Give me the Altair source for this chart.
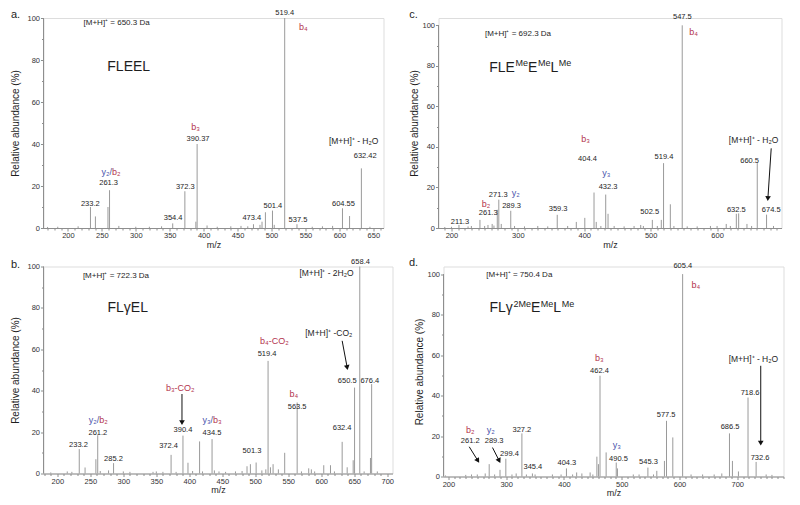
import math
import altair as alt
import pandas as pd

# ---------------- data: panel a (FLEEL) ----------------
A_MZ = [170, 185, 215, 233.2, 240.5, 259, 261.3, 275, 300, 320, 338, 354.4, 372.3, 388.5, 390.37,
        405, 420, 440, 455, 465, 473.4, 483, 486, 491, 501.4, 504, 519.4, 537.5, 560, 575, 590,
        604.55, 615, 632.42, 645]
A_INT = [0.5, 0.6, 0.8, 10, 5.5, 10, 18, 1, 0.6, 0.6, 0.8, 2.2, 17.5, 3, 40,
         1.2, 0.6, 0.8, 1, 0.8, 1.8, 1.5, 3, 7.5, 8.3, 1.5, 100, 1.8, 0.6, 0.8, 1,
         9.4, 5.7, 28.4, 0.6]
A_LAB_T = ["233.2", "261.3", "354.4", "372.3", "390.37", "473.4", "501.4", "537.5", "519.4", "604.55", "632.42"]
A_LAB_X = [233, 260, 355, 373, 391.7, 471, 502, 539, 519.4, 606, 638]
A_LAB_Y = [11.4, 21.3, 4.6, 19.4, 42.4, 4.6, 10.5, 3.8, 102.5, 11.4, 34.4]
A_NOTE_T = ["[M+H]⁺ - H₂O"]
A_NOTE_X = [621]
A_NOTE_Y = [41.6]
A_ION_T = ["b₄", "b₃"]
A_ION_X = [547, 388]
A_ION_Y = [95.9, 48.2]
A_ION_K = ["b", "b"]
A_PAIR_L = ["y₂/"]
A_PAIR_R = ["b₂"]
A_PAIR_X = [264.8]
A_PAIR_Y = [26.8]
A_ARR_X1, A_ARR_Y1, A_ARR_X2, A_ARR_Y2 = [], [], [], []
A_HEAD = "[M+H]⁺ = 650.3 Da"
A_HEAD_XY = (223, 97.6)
A_NAME_PARTS = ["FLEEL"]
A_NAME_SUP = [0]
A_NAME_XY = (258, 76.7)

# ---------------- data: panel b (FLγEL) ----------------
B_MZ = [190, 215, 222, 233.2, 242, 258.4, 261.2, 265, 277.6, 285.2, 300, 310, 345, 350, 360, 372.4,
        380, 390.4, 398, 405, 415.6, 420, 434.5, 438, 445, 455, 470, 480, 487.5, 492.6, 501.3, 510,
        516, 519.4, 523, 527, 535, 544.6, 563.5, 570, 581, 585, 590, 603.8, 614, 620, 631.7, 639.3,
        648.4, 650.5, 658.4, 665, 674.6, 676.4, 685]
B_INT = [0.5, 1, 0.8, 11.8, 2.9, 6.9, 18.5, 1.2, 1.5, 5, 1, 0.8, 0.8, 1, 0.8, 9,
         0.8, 18.3, 5.2, 1.2, 15.5, 1, 16.6, 1.5, 1, 0.8, 1, 1.2, 3.5, 4.5, 5.3, 1.5,
         2, 54.4, 3, 4.5, 2, 10, 34.3, 1, 2.5, 2, 1, 4, 4, 1, 15.3, 3,
         6.4, 41.5, 100, 1, 7.5, 43.2, 1]
B_LAB_T = ["233.2", "261.2", "285.2", "372.4", "390.4", "434.5", "501.3", "519.4", "563.5", "632.4",
           "650.5", "676.4", "658.4"]
B_LAB_X = [232, 261.4, 285, 368.6, 390.4, 434.4, 495, 517.9, 563.4, 631.7, 639.3, 673.6, 659.5]
B_LAB_Y = [13.9, 19.8, 7, 13.4, 21.1, 19.8, 11, 57.7, 31.9, 21.8, 44.8, 44.8, 102.4]
B_NOTE_T = ["[M+H]⁺ - 2H₂O", "[M+H]⁺ -CO₂"]
B_NOTE_X = [608, 611.4]
B_NOTE_Y = [97.1, 68.1]
B_ION_T = ["b₄-CO₂", "b₄", "b₃-CO₂"]
B_ION_X = [529, 558.3, 386.3]
B_ION_Y = [64.1, 38.6, 41.5]
B_ION_K = ["b", "b", "b"]
B_PAIR_L = ["y₂/", "y₃/"]
B_PAIR_R = ["b₂", "b₃"]
B_PAIR_X = [263.4, 436]
B_PAIR_Y = [25.9, 25.9]
B_ARR_X1 = [631.7, 388.9]
B_ARR_Y1 = [64.1, 38.4]
B_ARR_X2 = [639.3, 388.9]
B_ARR_Y2 = [51.2, 24.6]
B_HEAD = "[M+H]⁺ = 722.3 Da"
B_HEAD_XY = (238.7, 95.5)
B_NAME_PARTS = ["FLγEL"]
B_NAME_SUP = [0]
B_NAME_XY = (276, 79.9)

# ---------------- data: panel c (FLE(Me)E(Me)L(Me)) ----------------
C_MZ = [190, 200, 211.3, 225, 230, 242.9, 250, 255, 261.3, 264, 269, 271.3, 275, 289.3, 295, 310,
        330, 345, 359.3, 375, 388, 400.8, 414.7, 418, 425, 432.3, 435.8, 445, 460, 475, 485, 489,
        502.5, 510, 516, 519.4, 529.6, 535, 547.5, 555, 570, 590, 600, 613.8, 620, 629, 632.5, 645,
        652, 660.5, 674.5, 685]
C_INT = [0.5, 0.6, 1.5, 0.8, 1, 4, 1, 1.5, 2, 1.2, 9, 14, 2, 8.5, 1, 0.8,
         1, 0.8, 6.5, 1, 3, 5, 17.5, 3, 1, 16.5, 7, 1, 0.8, 1, 1.5, 1,
         4, 1, 4, 32, 11.7, 1, 100, 0.8, 0.8, 1, 1, 2, 1, 7, 7.2, 2,
         1, 32, 6.6, 1]
C_LAB_T = ["211.3", "261.3", "271.3", "289.3", "359.3", "404.4", "432.3", "502.5", "519.4", "547.5",
           "632.5", "660.5", "674.5"]
C_LAB_X = [212.8, 255.4, 270.4, 290.5, 360.6, 404.8, 435.8, 498.5, 520, 547.7, 628.9, 649, 681.5]
C_LAB_Y = [3.1, 7.2, 16.3, 10.9, 9.4, 34, 20, 7.9, 35.2, 104, 8.9, 33.2, 8.9]
C_NOTE_T = ["[M+H]⁺ - H₂O"]
C_NOTE_X = [654.9]
C_NOTE_Y = [43.4]
C_ION_T = ["b₄", "b₃", "y₃", "y₂", "b₂"]
C_ION_X = [564.7, 401.8, 433.4, 297, 251.9]
C_ION_Y = [96.9, 43.8, 27, 17.4, 11.8]
C_ION_K = ["b", "b", "y", "y", "b"]
C_PAIR_L, C_PAIR_R, C_PAIR_X, C_PAIR_Y = [], [], [], []
C_ARR_X1 = [681.5]
C_ARR_Y1 = [39.3]
C_ARR_X2 = [676.5]
C_ARR_Y2 = [14.5]
C_HEAD = "[M+H]⁺ = 692.3 Da"
C_HEAD_XY = (250.4, 95.5)
C_NAME_PARTS = ["FLE", "Me", "E", "Me", "L", "Me"]
C_NAME_SUP = [0, 1, 0, 1, 0, 1]
C_NAME_XY = (256.8, 79.1)

# ---------------- data: panel d (FLγ(2Me)E(Me)L(Me)) ----------------
D_MZ = [195, 230, 240, 250, 263.7, 270.6, 280, 289.3, 299.4, 310, 317.3, 327.2, 335, 345.4, 350, 380,
        395, 404.3, 415, 422, 431, 445.3, 450, 457, 459.7, 462.4, 473, 490.5, 492.6, 520, 530, 545.3,
        555, 560.7, 573.9, 577.5, 588.4, 605.4, 620, 640, 660, 673.2, 686.5, 691.6, 702, 718.6, 732.6,
        750, 760]
D_INT = [0.5, 0.8, 1, 1, 1.5, 6.1, 1, 3.3, 8.8, 1, 1.5, 21.3, 1, 1.5, 1, 1,
         1, 4, 1, 2, 1.5, 2, 1, 9.8, 6.1, 49.8, 11.9, 6.9, 4, 1, 1, 4.4,
         1, 2.8, 7.7, 27.5, 19.3, 100, 1, 1, 1, 1.5, 21.3, 7.7, 2.5, 39, 7.2,
         1, 0.8]
D_LAB_T = ["261.2", "289.3", "299.4", "327.2", "345.4", "404.3", "462.4", "490.5", "545.3", "577.5",
           "605.4", "686.5", "718.6", "732.6"]
D_LAB_X = [237.7, 279.2, 305.7, 327.2, 346.2, 405, 461.4, 494.3, 546.2, 576.8, 605.7, 687.5, 722.1, 739.4]
D_LAB_Y = [17.6, 17.6, 11, 23.1, 4.8, 6.9, 52.2, 8.6, 7.3, 30.3, 103.8, 24.7, 41.5, 9.1]
D_NOTE_T = ["[M+H]⁺ - H₂O"]
D_NOTE_X = [727.9]
D_NOTE_Y = [58]
D_ION_T = ["b₄", "b₃", "y₃", "b₂", "y₂"]
D_ION_X = [628.2, 461.4, 491.5, 237.7, 273.5]
D_ION_Y = [94.6, 58.3, 15.7, 23.1, 23.1]
D_ION_K = ["b", "b", "y", "b", "y"]
D_PAIR_L, D_PAIR_R, D_PAIR_X, D_PAIR_Y = [], [], [], []
D_ARR_X1 = [740.6, 236, 276.3]
D_ARR_Y1 = [54.7, 14.7, 14.3]
D_ARR_X2 = [740.6, 251, 287.9]
D_ARR_Y2 = [16.5, 7.8, 7.8]
D_HEAD = "[M+H]⁺ = 750.4 Da"
D_HEAD_XY = (265.4, 99.7)
D_NAME_PARTS = ["FLγ", "2Me", "E", "Me", "L", "Me"]
D_NAME_SUP = [0, 1, 0, 1, 0, 1]
D_NAME_XY = (271.1, 83.2)

# ---------------- style ----------------
FONT = "Liberation Sans"
RED = "#b3344e"
BLUE = "#4a55ad"
PEAK = "#9a9a9a"
AXIS = "#8e8e8e"
TXT = "#1e1e1e"
KIND_COLOR = {"b": RED, "y": BLUE}
NAME_SIZE = 14
SUP_SIZE = 9
# approximate Arial / Liberation Sans advance widths (em) for composing the peptide names
GLYPH_W = {"F": 0.611, "L": 0.556, "E": 0.667, "M": 0.833, "e": 0.556, "γ": 0.5, "2": 0.556}


def text_width(s, size):
    return sum(GLYPH_W.get(ch, 0.6) for ch in s) * size


def panel(letter, mz, inten, lab_t, lab_x, lab_y, note_t, note_x, note_y,
          ion_t, ion_x, ion_y, ion_k, pair_l, pair_r, pair_x, pair_y,
          ax1, ay1, ax2, ay2, head, head_xy, name_parts, name_sup, name_xy,
          xdom, ydom, width, height, major, title_pad, letter_xy):
    xs = alt.Scale(domain=xdom, nice=False, zero=False)
    ys = alt.Scale(domain=ydom, nice=False, zero=False)
    xvals = list(range(int(math.ceil(xdom[0] / 10.0)) * 10, int(xdom[1]) + 1, 10))
    xaxis = alt.Axis(
        title="m/z", values=xvals,
        labelExpr=f"datum.value % {major} === 0 ? datum.label : ''",
        tickSize={"condition": {"test": f"datum.value % {major} === 0", "value": 3}, "value": 2},
        labelOverlap=False, grid=False, domainColor=AXIS, tickColor=AXIS,
        labelColor="#333333", labelFont=FONT, labelFontSize=7.5, labelPadding=0.5,
        titleFont=FONT, titleFontSize=9, titleFontWeight="normal", titleColor=TXT, titlePadding=1,
    )
    yaxis = alt.Axis(
        title="Relative abundance (%)", values=list(range(0, 101, 10)),
        labelExpr="datum.value % 20 === 0 ? datum.label : ''",
        tickSize={"condition": {"test": "datum.value % 20 === 0", "value": 3}, "value": 2},
        labelOverlap=False, grid=False, domain=False, tickColor=AXIS,
        labelColor="#333333", labelFont=FONT, labelFontSize=7.5, labelPadding=1,
        titleFont=FONT, titleFontSize=10, titleFontWeight="normal", titleColor=TXT,
        titlePadding=title_pad,
    )

    def X(f):
        return alt.X(f, type="quantitative", scale=xs, axis=xaxis)

    def Y(f):
        return alt.Y(f, type="quantitative", scale=ys, axis=yaxis)

    peaks = pd.DataFrame({"mz": mz, "y": inten, "y0": [0] * len(mz)})
    layers = []
    layers.append(alt.Chart(peaks).mark_rule(color=PEAK, strokeWidth=1).encode(
        x=X("mz"), y=Y("y"), y2="y0:Q"))
    # y axis line (0 to 100)
    yline = pd.DataFrame({"mz": [xdom[0]], "y": [0], "y2": [100]})
    layers.append(alt.Chart(yline).mark_rule(color=AXIS, strokeWidth=1).encode(
        x=X("mz"), y=Y("y"), y2="y2:Q"))
    # peak value labels
    labs = pd.DataFrame({"mz": lab_x, "y": lab_y, "t": lab_t})
    layers.append(alt.Chart(labs).mark_text(font=FONT, fontSize=7.5, color=TXT, baseline="middle").encode(
        x=X("mz"), y=Y("y"), text="t:N"))
    notes = pd.DataFrame({"mz": note_x, "y": note_y, "t": note_t})
    layers.append(alt.Chart(notes).mark_text(font=FONT, fontSize=8.5, color=TXT, baseline="middle").encode(
        x=X("mz"), y=Y("y"), text="t:N"))
    ions = pd.DataFrame({"mz": ion_x, "y": ion_y, "t": ion_t, "c": [KIND_COLOR[k] for k in ion_k]})
    layers.append(alt.Chart(ions).mark_text(font=FONT, fontSize=9, baseline="middle").encode(
        x=X("mz"), y=Y("y"), text="t:N", color=alt.Color("c:N", scale=None)))
    if pair_x:
        pl = pd.DataFrame({"mz": pair_x, "y": pair_y, "t": pair_l})
        pr = pd.DataFrame({"mz": pair_x, "y": pair_y, "t": pair_r})
        layers.append(alt.Chart(pl).mark_text(font=FONT, fontSize=9, baseline="middle", align="right",
                                              color=BLUE).encode(x=X("mz"), y=Y("y"), text="t:N"))
        layers.append(alt.Chart(pr).mark_text(font=FONT, fontSize=9, baseline="middle", align="left",
                                              color=RED).encode(x=X("mz"), y=Y("y"), text="t:N"))
    hd = pd.DataFrame({"mz": [head_xy[0]], "y": [head_xy[1]], "t": [head]})
    layers.append(alt.Chart(hd).mark_text(font=FONT, fontSize=8, color=TXT, baseline="middle",
                                          align="left").encode(x=X("mz"), y=Y("y"), text="t:N"))
    # peptide name, composed of normal and superscript pieces
    off = 0.0
    for part, sup in zip(name_parts, name_sup):
        size = SUP_SIZE if sup else NAME_SIZE
        if sup:
            off += 0.6
        nd = pd.DataFrame({"mz": [name_xy[0]], "y": [name_xy[1]], "t": [part]})
        layers.append(alt.Chart(nd).mark_text(font=FONT, fontSize=size, color=TXT, baseline="middle",
                                              align="left", dx=round(off, 2), dy=-4.5 if sup else 0).encode(
            x=X("mz"), y=Y("y"), text="t:N"))
        off += text_width(part, size)
    if ax1:
        kx = width / (xdom[1] - xdom[0])
        ky = height / (ydom[1] - ydom[0])
        ang = []
        for i in range(len(ax1)):
            vx = (ax2[i] - ax1[i]) * kx
            vy = -(ay2[i] - ay1[i]) * ky
            ang.append(math.degrees(math.atan2(-vx, vy)) % 360)
        arr = pd.DataFrame({"mz": ax1, "y": ay1, "mz2": ax2, "y2": ay2, "a": ang})
        layers.append(alt.Chart(arr).mark_rule(color="#111111", strokeWidth=1).encode(
            x=X("mz"), y=Y("y"), x2="mz2:Q", y2="y2:Q"))
        layers.append(alt.Chart(arr).mark_point(shape="triangle-down", filled=True, color="#111111",
                                                size=32, opacity=1).encode(
            x=X("mz2"), y=Y("y2"), angle=alt.Angle("a:Q", scale=None)))
    lt = pd.DataFrame({"t": [letter]})
    layers.append(alt.Chart(lt).mark_text(font=FONT, fontSize=11, color=TXT, baseline="middle",
                                          align="center").encode(
        text="t:N", x=alt.value(letter_xy[0]), y=alt.value(letter_xy[1])))
    return alt.layer(*layers).properties(width=width, height=height)


pa = panel("a.", A_MZ, A_INT, A_LAB_T, A_LAB_X, A_LAB_Y, A_NOTE_T, A_NOTE_X, A_NOTE_Y,
           A_ION_T, A_ION_X, A_ION_Y, A_ION_K, A_PAIR_L, A_PAIR_R, A_PAIR_X, A_PAIR_Y,
           A_ARR_X1, A_ARR_Y1, A_ARR_X2, A_ARR_Y2, A_HEAD, A_HEAD_XY, A_NAME_PARTS, A_NAME_SUP, A_NAME_XY,
           [164, 665], [0, 100], 340, 210, 50, 6, (-28, -3))
pc = panel("c.", C_MZ, C_INT, C_LAB_T, C_LAB_X, C_LAB_Y, C_NOTE_T, C_NOTE_X, C_NOTE_Y,
           C_ION_T, C_ION_X, C_ION_Y, C_ION_K, C_PAIR_L, C_PAIR_R, C_PAIR_X, C_PAIR_Y,
           C_ARR_X1, C_ARR_Y1, C_ARR_X2, C_ARR_Y2, C_HEAD, C_HEAD_XY, C_NAME_PARTS, C_NAME_SUP, C_NAME_XY,
           [180.5, 697], [0, 103.6], 343, 210, 100, 2, (-25, -3))
pb = panel("b.", B_MZ, B_INT, B_LAB_T, B_LAB_X, B_LAB_Y, B_NOTE_T, B_NOTE_X, B_NOTE_Y,
           B_ION_T, B_ION_X, B_ION_Y, B_ION_K, B_PAIR_L, B_PAIR_R, B_PAIR_X, B_PAIR_Y,
           B_ARR_X1, B_ARR_Y1, B_ARR_X2, B_ARR_Y2, B_HEAD, B_HEAD_XY, B_NAME_PARTS, B_NAME_SUP, B_NAME_XY,
           [179, 708], [0, 100], 349, 207, 50, 6, (-28, -2))
pd_ = panel("d.", D_MZ, D_INT, D_LAB_T, D_LAB_X, D_LAB_Y, D_NOTE_T, D_NOTE_X, D_NOTE_Y,
            D_ION_T, D_ION_X, D_ION_Y, D_ION_K, D_PAIR_L, D_PAIR_R, D_PAIR_X, D_PAIR_Y,
            D_ARR_X1, D_ARR_Y1, D_ARR_X2, D_ARR_Y2, D_HEAD, D_HEAD_XY, D_NAME_PARTS, D_NAME_SUP, D_NAME_XY,
            [191.5, 780], [0, 103.75], 340, 210, 100, 2, (-30, -4))

row1 = alt.hconcat(pa, pc, spacing=55, bounds="flush")
row2 = alt.hconcat(pb, pd_, spacing=51, bounds="flush")
chart = alt.vconcat(row1, row2, spacing=5.5).properties(
    padding={"left": 1.5, "top": 0, "right": 4, "bottom": 4}
).configure_view(stroke=None).configure(background="white")

chart.save("out.html", embed_options={"renderer": "svg", "actions": False})
